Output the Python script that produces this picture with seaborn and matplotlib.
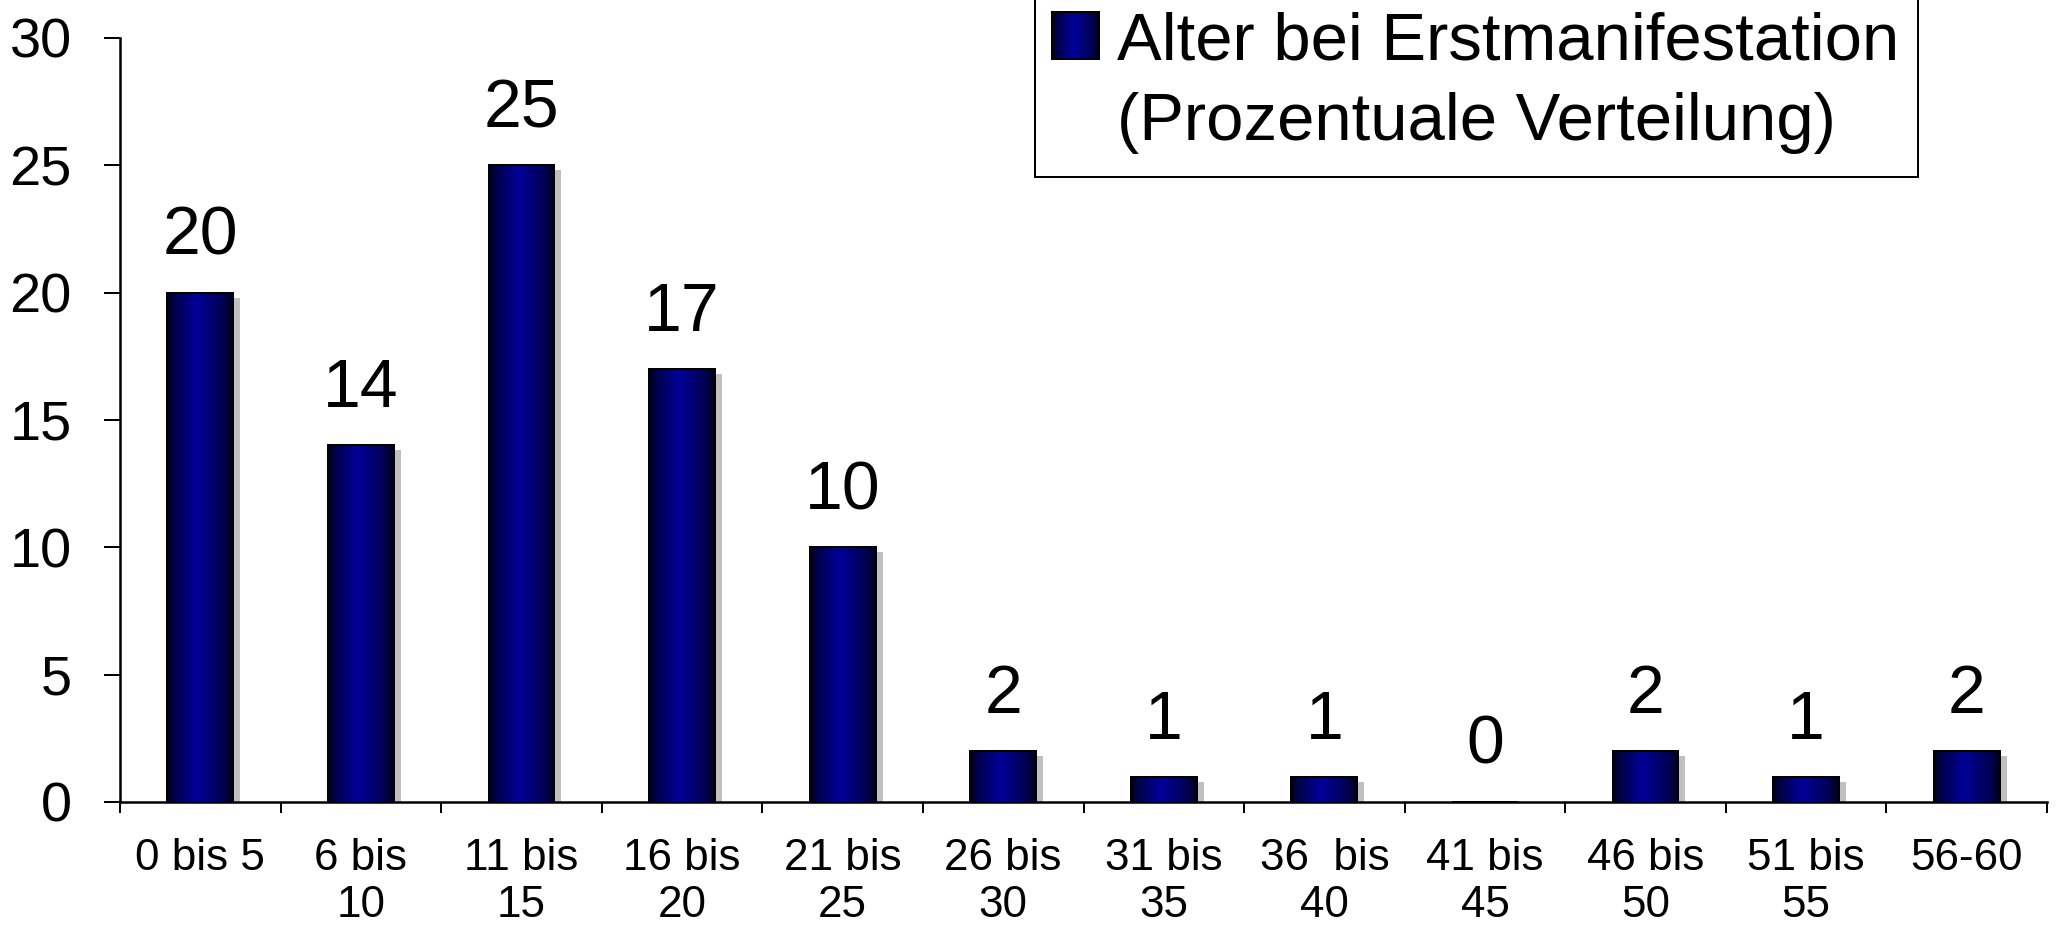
import matplotlib
matplotlib.use("Agg")
import numpy as np
import pandas as pd
import seaborn as sns
import matplotlib.pyplot as plt
from matplotlib.colors import LinearSegmentedColormap
from matplotlib.patches import Rectangle, Patch
from matplotlib.transforms import ScaledTranslation, Bbox, TransformedBbox
from matplotlib.image import BboxImage
from matplotlib.legend_handler import HandlerBase

# Age groups at first manifestation and their share in percent
age_groups = ["0 bis 5", "6 bis\n10", "11 bis\n15", "16 bis\n20", "21 bis\n25",
              "26 bis\n30", "31 bis\n35", "36  bis\n40", "41 bis\n45",
              "46 bis\n50", "51 bis\n55", "56-60"]
percent = [20, 14, 25, 17, 10, 2, 1, 1, 0, 2, 1, 2]
y_ticks = [0, 5, 10, 15, 20, 25, 30]
legend_lines = ["Alter bei Erstmanifestation", "(Prozentuale Verteilung)"]

df = pd.DataFrame({"Altersgruppe": age_groups, "Prozent": percent})

sns.set_style("ticks")
plt.rcParams["font.family"] = ["Liberation Sans", "DejaVu Sans"]
plt.rcParams["text.color"] = "black"

W, H, DPI = 2056, 925, 72
fig = plt.figure(figsize=(W / DPI, H / DPI), dpi=DPI)
ax = fig.add_axes([120 / W, 123 / H, (2047 - 120) / W, (802 - 38) / H])

sns.barplot(data=df, x="Altersgruppe", y="Prozent", color="#000080",
            width=0.41, ax=ax, zorder=3)

# horizontal metallic shading: dark edges, bright navy core
bar_cmap = LinearSegmentedColormap.from_list(
    "navy_shade",
    [(0.0, (0.0, 0.0, 0.10)), (0.12, (0.0, 0.0, 0.30)),
     (0.45, (0.0, 0.0, 0.60)), (0.85, (0.0, 0.0, 0.32)),
     (1.0, (0.0, 0.0, 0.10))])
gradient = np.linspace(0, 1, 256).reshape(1, -1)

shadow_shift = ScaledTranslation(7 / 72, -5 / 72, fig.dpi_scale_trans)
bars = ax.containers[0]
for bar in bars:
    x0, y0 = bar.get_x(), bar.get_y()
    w, h = bar.get_width(), bar.get_height()
    bar.set_facecolor("none")
    bar.set_edgecolor("black")
    bar.set_linewidth(2)
    bar.set_zorder(4)
    if h <= 0:
        continue
    ax.add_patch(Rectangle((x0, y0), w, h, facecolor="#c0c0c0",
                           edgecolor="none", zorder=1,
                           transform=ax.transData + shadow_shift))
    ax.imshow(gradient, cmap=bar_cmap, vmin=0, vmax=1, aspect="auto",
              extent=[x0, x0 + w, y0, y0 + h], interpolation="bicubic",
              zorder=2)

ax.bar_label(bars, fmt="{:.0f}", padding=24, fontsize=68, color="black")

ax.set_xlim(-0.5, len(age_groups) - 0.5)
ax.set_ylim(0, 30)
ax.set_yticks(y_ticks)
ax.set_xticks(range(len(age_groups)))
ax.set_xticklabels(age_groups, multialignment="center")
ax.set_xticks(np.arange(-0.5, len(age_groups), 1.0), minor=True)
ax.set_xlabel("")
ax.set_ylabel("")

ax.tick_params(axis="y", length=16, width=2, pad=32, labelsize=56,
               colors="black", direction="out")
ax.tick_params(axis="x", which="major", length=0, pad=36, labelsize=44,
               colors="black")
ax.tick_params(axis="x", which="minor", length=11, width=2,
               direction="out", color="black")

sns.despine(ax=ax)
for side in ("left", "bottom"):
    ax.spines[side].set_linewidth(2.5)
    ax.spines[side].set_color("black")
    ax.spines[side].set_zorder(3.5)
ax.set_facecolor("white")


class GradientHandler(HandlerBase):
    def create_artists(self, legend, orig_handle, xdescent, ydescent,
                       width, height, fontsize, trans):
        box = TransformedBbox(
            Bbox.from_bounds(-xdescent, -ydescent, width, height), trans)
        img = BboxImage(box, cmap=bar_cmap, norm=None,
                        interpolation="bicubic")
        img.set_data(gradient)
        img.set_clim(0, 1)
        edge = Rectangle((-xdescent, -ydescent), width, height,
                         facecolor="none", edgecolor="black", lw=2,
                         transform=trans)
        return [img, edge]


# legend frame: open at the top edge of the figure
fig.add_artist(Rectangle((1035 / W, (H - 177) / H), (1918 - 1035) / W,
                         220 / H, transform=fig.transFigure,
                         facecolor="white", edgecolor="black", lw=2,
                         zorder=4))

main_handle = Patch(facecolor="#000080", edgecolor="black")
blank_handle = Patch(facecolor="none", edgecolor="none")
leg = fig.legend([main_handle, blank_handle], legend_lines,
                 handler_map={main_handle: GradientHandler()},
                 loc="upper left",
                 bbox_to_anchor=(1052 / W, (H - 11) / H),
                 bbox_transform=fig.transFigure, borderaxespad=0,
                 fontsize=67, handlelength=0.7, handleheight=0.72,
                 handletextpad=0.27, borderpad=0, labelspacing=0.28,
                 frameon=False)
leg.set_zorder(5)

fig.savefig("out.png", dpi=DPI, facecolor="white")
